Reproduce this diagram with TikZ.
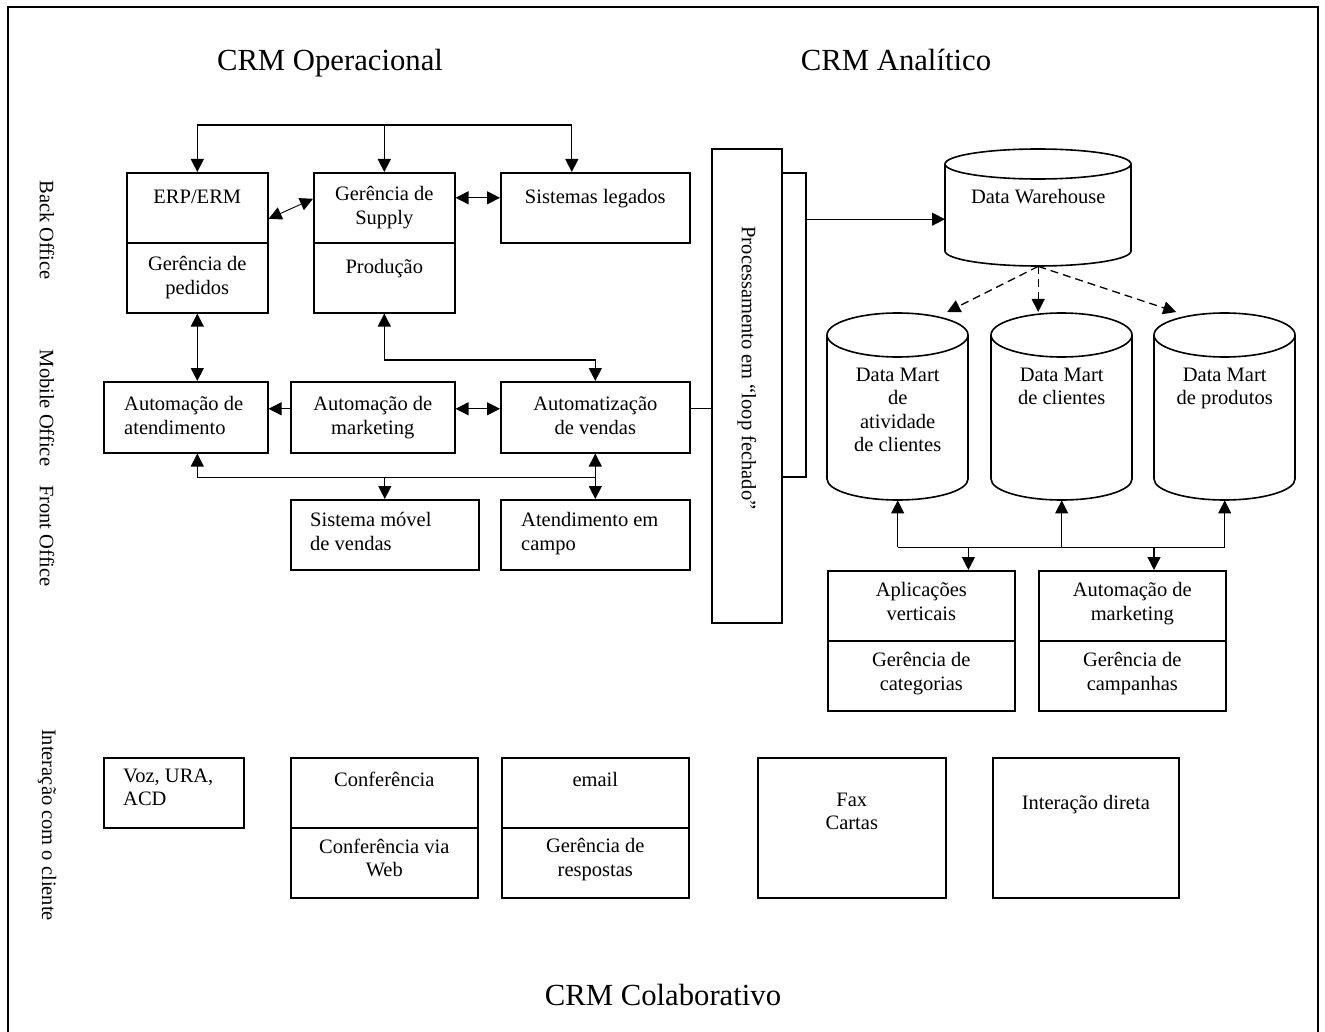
\documentclass[tikz,border=0pt]{standalone}
\usepackage{fontspec}
\setmainfont{Liberation Serif}
\usetikzlibrary{arrows.meta,calc}
\newcommand\crmbody{\fontsize{20.5}{23.6}\selectfont}
\newcommand\crmtitle{\fontsize{30.7}{36}\selectfont}

\begin{document}
\begin{tikzpicture}[x=1pt,y=-1pt,
  >={Triangle[length=13pt,width=13pt]},
  panel/.style={draw,line width=1.6pt,inner sep=0pt,anchor=north west},
  ghost/.style={inner sep=0pt,anchor=north west},
  txt/.style={font=\crmbody,inner sep=0pt,anchor=north,align=center,execute at begin node=\strut},
  ltxt/.style={txt,anchor=north west,align=left},
  side/.style={font=\crmbody,inner sep=0pt,rotate=-90},
  heading/.style={font=\crmtitle,inner sep=0pt,anchor=base},
  link/.style={line width=1.3pt},
  fine/.style={line width=0.9pt},
  feed/.style={line width=1.3pt,dash pattern=on 8pt off 5pt},
  drum/.style={line width=1.6pt},
]
\useasboundingbox (0,0) rectangle (1325,1032);

% outer frame
\draw[line width=2.5pt] (8,1032) -- (8,7) -- (1318,7) -- (1318,1032);

% headings
\node[heading] (opT) at (330,71) {CRM Operacional};
\node[heading] (anT) at (896,71) {CRM Analítico};
\node[heading] (colT) at (663,1005) {CRM Colaborativo};

% side labels
\node[side] (sBack) at (47,230) {Back Office};
\node[side] (sMob) at (47,408) {Mobile Office};
\node[side] (sFront) at (47,536) {Front Office};
\node[side] (sCli) at (47,825) {Interação com o cliente};

% ---- CRM operacional: back office
\node[panel,minimum width=141,minimum height=70] (erpA) at (126,172) {};
\node[panel,minimum width=141,minimum height=70] (erpB) at (126,242) {};
\node[panel,minimum width=141,minimum height=70] (gerA) at (313,172) {};
\node[panel,minimum width=141,minimum height=70] (gerB) at (313,242) {};
\node[panel,minimum width=189,minimum height=70] (sistA) at (500,172) {};
\node[txt] (erpT) at ([yshift=-14.5pt]erpA.north) {ERP/ERM};
\node[txt] (pedT) at ([yshift=-14.5pt]erpB.north) {Gerência de\\pedidos};
\node[txt] (gerT) at ([yshift=-14.5pt]gerA.north) {Gerência de\\Supply};
\node[txt] (prodT) at ([yshift=-14.5pt]gerB.north) {Produção};
\node[txt] (sistT) at ([yshift=-14.5pt]sistA.north) {Sistemas legados};

% ---- mobile office
\node[panel,minimum width=164,minimum height=71] (atend) at (103,381) {};
\node[panel,minimum width=164,minimum height=71] (mkt) at (290,381) {};
\node[panel,minimum width=189,minimum height=71] (autv) at (500,381) {};
\node[ltxt] (atendT) at ([xshift=21pt,yshift=-15.5pt]atend.north west) {Automação de\\atendimento};
\node[txt] (mktT) at ([yshift=-15.5pt]mkt.north) {Automação de\\marketing};
\node[txt] (autvT) at ([yshift=-15.5pt]autv.north) {Automatização\\de vendas};

% ---- front office
\node[panel,minimum width=188,minimum height=70] (sismov) at (290,499) {};
\node[panel,minimum width=189,minimum height=70] (campo) at (500,499) {};
\node[ltxt] (sismovT) at ([xshift=20pt,yshift=-13.5pt]sismov.north west) {Sistema móvel\\de vendas};
\node[ltxt] (campoT) at ([xshift=21pt,yshift=-13.5pt]campo.north west) {Atendimento em\\campo};

% ---- closed loop processing
\node[panel,minimum width=25,minimum height=304] (loopback) at (780,172) {};
\node[panel,fill=white,minimum width=70,minimum height=474] (loop) at (711,148) {};
\node[side] (loopT) at ([yshift=-220pt]loop.north) {Processamento em “loop fechado”};

% ---- CRM analitico: warehouse and marts
\node[ghost,minimum width=186,minimum height=117] (dw) at (945,149) {};
\draw[drum] (945,164) -- (945,251) arc[start angle=180,end angle=0,x radius=93,y radius=15] -- (1131,164);
\draw[drum] (1038,164) ellipse[x radius=93,y radius=15];
\node[txt] (dwT) at ([yshift=-37.5pt]dw.north) {Data Warehouse};

\node[ghost,minimum width=141,minimum height=187] (dm1) at (827,313) {};
\node[ghost,minimum width=141,minimum height=187] (dm2) at (991,313) {};
\node[ghost,minimum width=141,minimum height=187] (dm3) at (1154,313) {};
\draw[drum] (827,335) -- (827,479) arc[start angle=180,end angle=0,x radius=70.5,y radius=21] -- (968,335);
\draw[drum] (897.5,335) ellipse[x radius=70.5,y radius=22];
\draw[drum] (991,335) -- (991,479) arc[start angle=180,end angle=0,x radius=70.5,y radius=21] -- (1132,335);
\draw[drum] (1061.5,335) ellipse[x radius=70.5,y radius=22];
\draw[drum] (1154,335) -- (1154,479) arc[start angle=180,end angle=0,x radius=70.5,y radius=21] -- (1295,335);
\draw[drum] (1224.5,335) ellipse[x radius=70.5,y radius=22];
\node[txt] (dm1T) at ([yshift=-54.5pt]dm1.north) {Data Mart\\de\\atividade\\de clientes};
\node[txt] (dm2T) at ([yshift=-54.5pt]dm2.north) {Data Mart\\de clientes};
\node[txt] (dm3T) at ([yshift=-54.5pt]dm3.north) {Data Mart\\de produtos};

\node[panel,minimum width=187,minimum height=70] (aplA) at (827,570) {};
\node[panel,minimum width=187,minimum height=70] (aplB) at (827,640) {};
\node[panel,minimum width=187,minimum height=70] (mkA) at (1038,570) {};
\node[panel,minimum width=187,minimum height=70] (mkB) at (1038,640) {};
\node[txt] (aplAT) at ([yshift=-12.5pt]aplA.north) {Aplicações\\verticais};
\node[txt] (aplBT) at ([yshift=-12.5pt]aplB.north) {Gerência de\\categorias};
\node[txt] (mkAT) at ([yshift=-12.5pt]mkA.north) {Automação de\\marketing};
\node[txt] (mkBT) at ([yshift=-12.5pt]mkB.north) {Gerência de\\campanhas};

% ---- CRM colaborativo: customer interaction
\node[panel,minimum width=140,minimum height=70] (voz) at (103,757) {};
\node[panel,minimum width=187,minimum height=70] (confA) at (290,757) {};
\node[panel,minimum width=187,minimum height=70] (confB) at (290,827) {};
\node[panel,minimum width=187,minimum height=70] (mailA) at (501,757) {};
\node[panel,minimum width=187,minimum height=70] (mailB) at (501,827) {};
\node[panel,minimum width=188,minimum height=140] (fax) at (757,757) {};
\node[panel,minimum width=186,minimum height=140] (direta) at (992,757) {};
\node[ltxt] (vozT) at ([xshift=20pt,yshift=-11.5pt]voz.north west) {Voz, URA,\\ACD};
\node[txt] (confAT) at ([yshift=-12.5pt]confA.north) {Conferência};
\node[txt] (confBT) at ([yshift=-11.5pt]confB.north) {Conferência via\\Web};
\node[txt] (mailAT) at ([yshift=-12.5pt]mailA.north) {email};
\node[txt] (mailBT) at ([yshift=-11.5pt]mailB.north) {Gerência de\\respostas};
\node[txt] (faxT) at ([yshift=-35.5pt]fax.north) {Fax\\Cartas};
\node[txt] (diretaT) at ([yshift=-35.5pt]direta.north) {Interação direta};

% ---- connectors, back office
\coordinate (tb) at ([yshift=47pt]erpA.north);
\coordinate (sx) at ([xshift=-23.5pt]sistA.north);
\draw[link] (tb) -- (sx |- tb);
\draw[link,->] (tb) -- (erpA.north);
\draw[link,->] (gerA.north |- tb) -- (gerA.north);
\draw[link,->] (sx |- tb) -- (sx);
\draw[fine,<->] ([yshift=-11pt]erpA.east) -- ([yshift=9pt]gerA.west);
\draw[link,<->] ([yshift=10pt]gerA.east) -- ([yshift=10pt]sistA.west);
\draw[link,<->] (erpB.south) -- (erpB.south |- atend.north);
\draw[link,<->] (gerB.south) |- ([yshift=21pt]autv.north) -- (autv.north);

% ---- connectors, mobile and front office
\draw[link,->] ([yshift=8.5pt]mkt.west) -- ([yshift=8.5pt]mkt.west -| atend.east);
\draw[link,<->] ([yshift=8.5pt]mkt.east) -- ([yshift=8.5pt]autv.west);
\draw[link] ([yshift=8.5pt]autv.east) -- ([yshift=8.5pt]autv.east -| loop.west);
\coordinate (bl) at ([yshift=-24pt]erpB.south |- atend.south);
\coordinate (br) at ([yshift=-24pt]autv.south);
\draw[link] (bl) -- (br);
\draw[link,->] (bl) -- (bl |- atend.south);
\draw[link,->] (sismov.north |- bl) -- (sismov.north);
\draw[link,->] (br) -- (autv.south);
\draw[link,->] (br) -- (campo.north);

% ---- connectors, analytical side
\coordinate (dwin) at ([yshift=-11.5pt]dw.west);
\draw[link,->] (loopback.east |- dwin) -- (dwin);
\draw[feed,->] (dw.south) -- ($(dm1.north)+(49.5,-1)$);
\draw[feed,->] (dw.south) -- ($(dm2.north)+(-23.5,-1)$);
\draw[feed,->] (dw.south) -- ($(dm3.north)+(-48.5,-1)$);
\coordinate (ja) at ([yshift=-47pt]dm1.south);
\coordinate (jc) at ([yshift=-47pt]dm3.south);
\draw[link] (ja) -- (jc);
\draw[fine,->] (ja) -- (dm1.south);
\draw[fine,->] (dm2.south |- ja) -- (dm2.south);
\draw[fine,->] (jc) -- (dm3.south);
\draw[link,->] (dm1.east |- ja) -- (dm1.east |- aplA.north);
\draw[link,->] (dm3.west |- ja) -- (dm3.west |- mkA.north);
\end{tikzpicture}
\end{document}
